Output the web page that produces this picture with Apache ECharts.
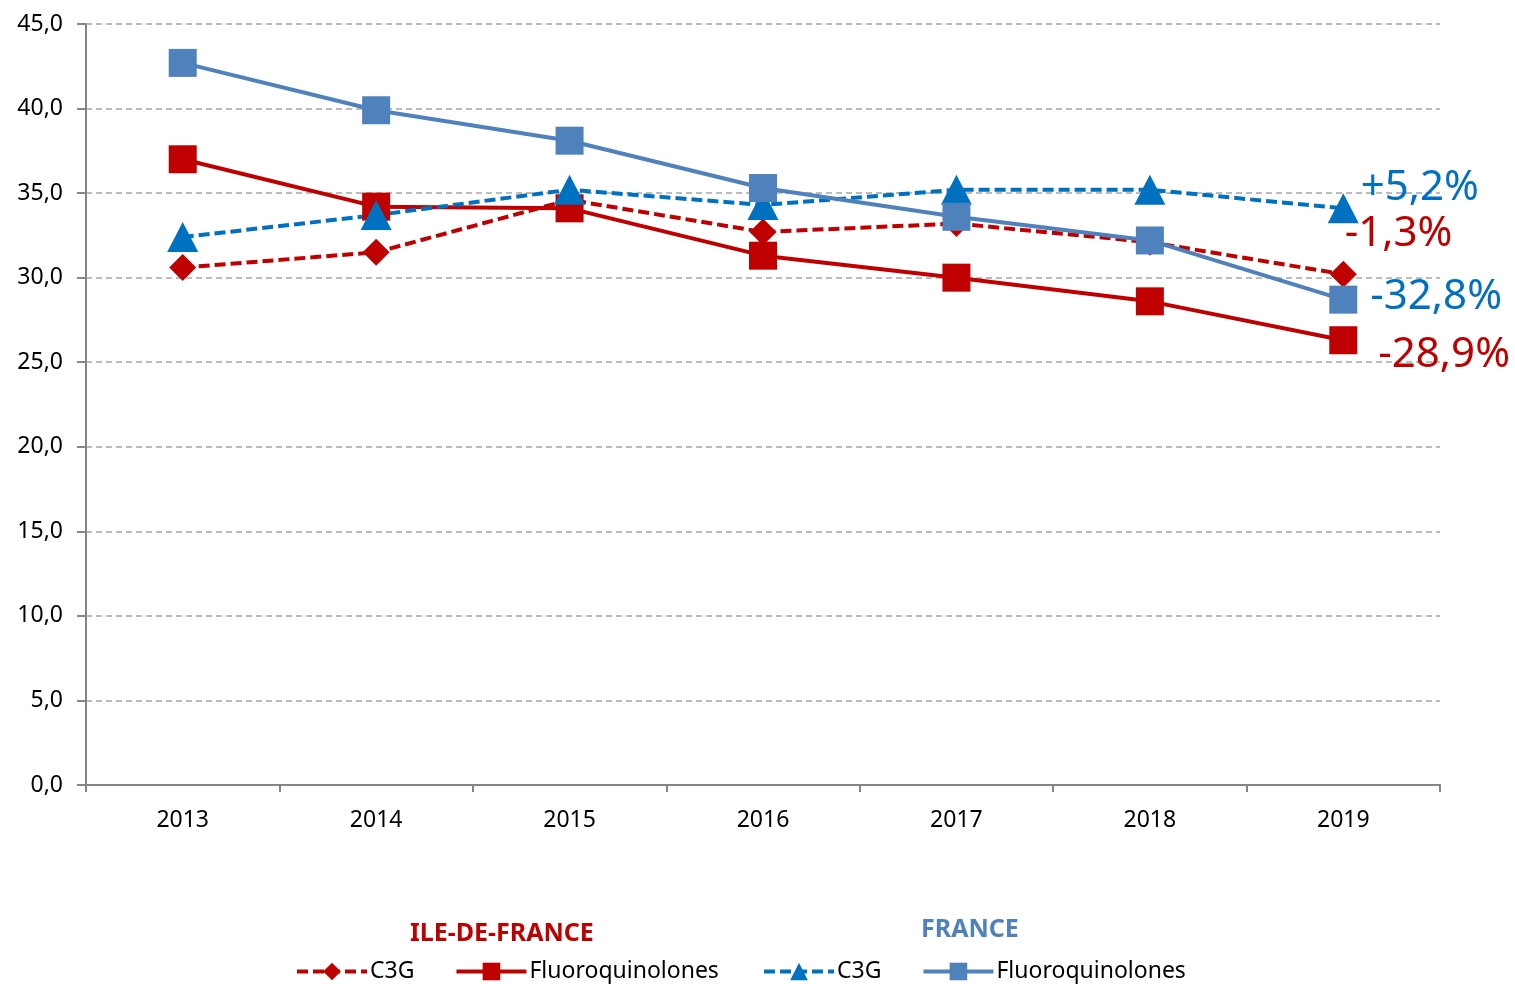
<!DOCTYPE html>
<html>
<head>
<meta charset="utf-8">
<script src="https://cdn.jsdelivr.net/npm/echarts@6/dist/echarts.min.js"></script>
<style>
html, body { margin: 0; padding: 0; background: #fff; }
#chart { width: 1515px; height: 984px; }
</style>
</head>
<body>
<div id="chart"></div>
<script>
var years = ['2013', '2014', '2015', '2016', '2017', '2018', '2019'];
var idfC3G = [30.6, 31.5, 34.6, 32.7, 33.2, 32.1, 30.2];
var idfFQ = [37.0, 34.2, 34.1, 31.3, 30.0, 28.6, 26.3];
var frC3G = [32.4, 33.7, 35.2, 34.3, 35.2, 35.2, 34.1];
var frFQ = [42.7, 39.9, 38.1, 35.3, 33.6, 32.2, 28.7];
var endLabels = ['-1,3%', '-28,9%', '+5,2%', '-32,8%'];

var RED = '#C00000';
var BLUE = '#0070C0';
var LIGHTBLUE = '#4F81BD';
var FONT = '"Noto Sans", sans-serif';

var dom = document.getElementById('chart');
var myChart = echarts.init(dom);

// put the variation label on the last point only
function withEndLabel(values, text, color, offset) {
    return values.map(function (v, i) {
        if (i !== values.length - 1) return v;
        return {
            value: v,
            label: {
                show: true,
                position: 'right',
                distance: 5,
                offset: offset,
                formatter: text,
                color: color,
                fontSize: 42,
                fontFamily: FONT
            }
        };
    });
}

function legendName(name) {
    return name.replace(/ \(.*\)$/, '');
}

var legendText = { color: '#000', fontSize: 23, fontFamily: FONT, padding: [0, 0, 0, -2] };

var option = {
    animation: false,
    backgroundColor: '#fff',
    textStyle: { fontFamily: FONT },
    grid: {
        left: 86,
        right: 75,
        top: 24,
        bottom: 199,
        containLabel: false
    },
    xAxis: {
        type: 'category',
        data: years,
        boundaryGap: true,
        axisLine: { show: true, lineStyle: { color: '#868686', width: 2 } },
        axisTick: { show: true, length: 7, lineStyle: { color: '#868686', width: 2 } },
        axisLabel: { color: '#000', fontSize: 23, margin: 24, fontFamily: FONT },
        splitLine: { show: false }
    },
    yAxis: {
        type: 'value',
        min: 0,
        max: 45,
        interval: 5,
        axisLine: { show: true, lineStyle: { color: '#868686', width: 2 } },
        axisTick: { show: true, length: 9, lineStyle: { color: '#868686', width: 2 } },
        axisLabel: {
            color: '#000',
            fontSize: 23,
            margin: 23,
            fontFamily: FONT,
            formatter: function (v) { return v.toFixed(1).replace('.', ','); }
        },
        splitLine: { show: true, lineStyle: { color: '#A6A6A6', width: 1.5, type: [6, 4] } }
    },
    legend: [{
        data: ['C3G (IDF)', 'Fluoroquinolones (IDF)'],
        left: 290,
        top: 955,
        itemWidth: 70,
        itemHeight: 22,
        itemGap: 40,
        formatter: legendName,
        lineStyle: { width: 4 },
        textStyle: legendText
    }, {
        data: ['C3G (France)', 'Fluoroquinolones (France)'],
        left: 757,
        top: 955,
        itemWidth: 70,
        itemHeight: 22,
        itemGap: 40,
        formatter: legendName,
        lineStyle: { width: 4 },
        textStyle: legendText
    }],
    graphic: [{
        type: 'text',
        left: 410,
        top: 921,
        style: { text: 'ILE-DE-FRANCE', fill: RED, font: 'bold 25px ' + FONT }
    }, {
        type: 'text',
        left: 921,
        top: 917,
        style: { text: 'FRANCE', fill: LIGHTBLUE, font: 'bold 25px ' + FONT }
    }],
    series: [{
        name: 'C3G (IDF)',
        type: 'line',
        data: withEndLabel(idfC3G, endLabels[0], RED, [-17, -40]),
        symbol: 'diamond',
        symbolSize: 27,
        itemStyle: { color: RED },
        lineStyle: { color: RED, width: 4, type: [11, 5] }
    }, {
        name: 'Fluoroquinolones (IDF)',
        type: 'line',
        data: withEndLabel(idfFQ, endLabels[1], RED, [16, 15]),
        symbol: 'rect',
        symbolSize: 28,
        itemStyle: { color: RED },
        lineStyle: { color: RED, width: 4 }
    }, {
        name: 'C3G (France)',
        type: 'line',
        data: withEndLabel(frC3G, endLabels[2], BLUE, [-3, -20]),
        symbol: 'triangle',
        symbolSize: [31, 30],
        itemStyle: { color: BLUE },
        lineStyle: { color: BLUE, width: 4, type: [11, 5] }
    }, {
        name: 'Fluoroquinolones (France)',
        type: 'line',
        data: withEndLabel(frFQ, endLabels[3], BLUE, [8, -3]),
        symbol: 'rect',
        symbolSize: 28,
        itemStyle: { color: LIGHTBLUE },
        lineStyle: { color: LIGHTBLUE, width: 4 }
    }]
};

myChart.setOption(option);
</script>
</body>
</html>
